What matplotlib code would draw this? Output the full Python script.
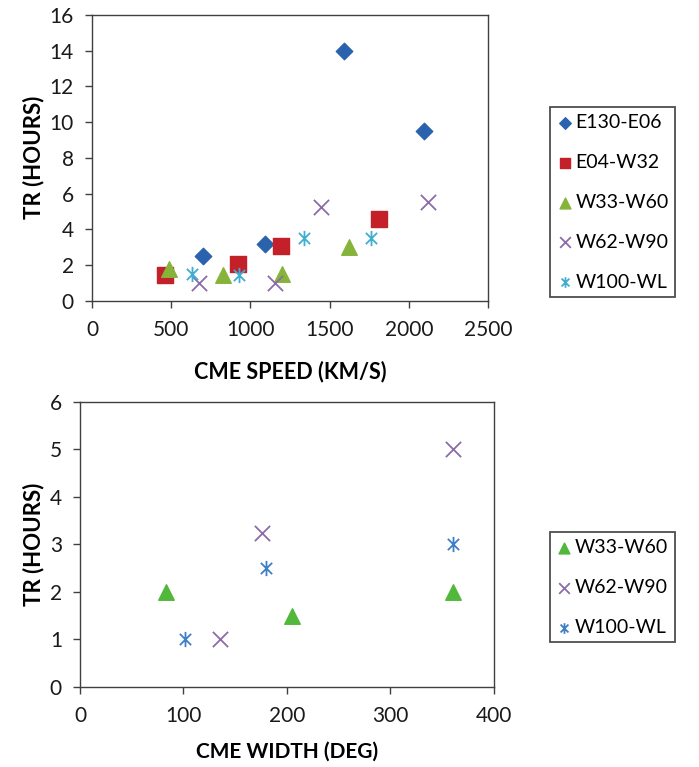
import matplotlib
matplotlib.use("Agg")
import matplotlib.pyplot as plt
from matplotlib.path import Path

# top panel: TR vs CME speed
e130_speed = [700, 1090, 1590, 2095]
e130_tr = [2.5, 3.2, 14.0, 9.5]
e04_speed = [463, 920, 1193, 1814]
e04_tr = [1.45, 2.05, 3.05, 4.55]
w33_speed = [488, 825, 1200, 1622]
w33_tr = [1.75, 1.45, 1.5, 3.0]
w62_speed = [673, 1153, 1446, 2119]
w62_tr = [1.0, 1.0, 5.25, 5.5]
w100_speed = [629, 930, 1336, 1761]
w100_tr = [1.5, 1.45, 3.5, 3.5]

# bottom panel: TR vs CME width
w33_width = [83, 205, 360]
w33_tr_w = [2.0, 1.5, 2.0]
w62_width = [135, 176, 360]
w62_tr_w = [1.0, 3.25, 5.0]
w100_width = [101, 180, 360]
w100_tr_w = [1.0, 2.5, 3.0]

plt.rcParams['font.family'] = ['Lato', 'DejaVu Sans']

# excel style asterisk
ast = Path([(-1, -1), (1, 1), (-1, 1), (1, -1), (0, -1.35), (0, 1.35)],
           [Path.MOVETO, Path.LINETO, Path.MOVETO, Path.LINETO, Path.MOVETO, Path.LINETO])

fig = plt.figure(figsize=(6.99, 7.67), dpi=100)


def style_axes(ax):
    for s in ax.spines.values():
        s.set_color('#404040')
        s.set_linewidth(1.0)
    ax.tick_params(axis='both', direction='out', length=5, width=1, color='#404040',
                   labelsize=15, labelcolor='#1a1a1a')
    ax.tick_params(axis='x', pad=9)
    ax.tick_params(axis='y', pad=8)
    ax.tick_params(axis='both', which='both', top=False, right=False)


def style_legend(leg):
    leg.get_frame().set_linewidth(1.3)


ax1 = fig.add_axes([0.1316, 0.608, 0.5665, 0.3725])
ax1.scatter(e130_speed, e130_tr, marker='D', s=70, color='#2B62AE', label='E130-E06', zorder=3)
ax1.scatter(e04_speed, e04_tr, marker='s', s=125, color='#C3202A', label='E04-W32', zorder=3)
ax1.scatter(w33_speed, w33_tr, marker='^', s=125, color='#86B43A', label='W33-W60', zorder=3)
ax1.scatter(w62_speed, w62_tr, marker='x', s=120, color='#8C6BA8', linewidths=1.3, label='W62-W90', zorder=3)
ax1.scatter(w100_speed, w100_tr, marker=ast, s=120, color='#3FAED0', linewidths=1.3, label='W100-WL', zorder=3)
ax1.set_xlim(0, 2500)
ax1.set_ylim(0, 16)
ax1.set_xticks(range(0, 2501, 500))
ax1.set_yticks(range(0, 17, 2))
ax1.set_xlabel('CME SPEED (KM/S)', fontsize=15.5, fontweight='bold', labelpad=15)
ax1.set_ylabel('TR (HOURS)', fontsize=16, fontweight='bold', labelpad=4)
style_axes(ax1)
leg1 = ax1.legend(loc='upper left', bbox_to_anchor=(1.157, 0.678), frameon=True, fancybox=False,
                  edgecolor='#222222', fontsize=14, labelspacing=1.18, handletextpad=0.15,
                  handlelength=0.8, borderpad=0.35, borderaxespad=0, markerscale=0.7)
style_legend(leg1)

ax2 = fig.add_axes([0.1144, 0.1043, 0.5923, 0.3716])
ax2.scatter(w33_width, w33_tr_w, marker='^', s=125, color='#52B83C', label='W33-W60', zorder=3)
ax2.scatter(w62_width, w62_tr_w, marker='x', s=120, color='#8C6BA8', linewidths=1.3, label='W62-W90', zorder=3)
ax2.scatter(w100_width, w100_tr_w, marker=ast, s=120, color='#3E7FC6', linewidths=1.3, label='W100-WL', zorder=3)
ax2.set_xlim(0, 400)
ax2.set_ylim(0, 6)
ax2.set_xticks(range(0, 401, 100))
ax2.set_yticks(range(0, 7))
ax2.set_xlabel('CME WIDTH (DEG)', fontsize=15, fontweight='bold', labelpad=11)
ax2.set_ylabel('TR (HOURS)', fontsize=16, fontweight='bold', labelpad=4)
style_axes(ax2)
leg2 = ax2.legend(loc='upper left', bbox_to_anchor=(1.135, 0.544), frameon=True, fancybox=False,
                  edgecolor='#222222', fontsize=14, labelspacing=1.18, handletextpad=0.15,
                  handlelength=0.8, borderpad=0.35, borderaxespad=0, markerscale=0.7)
style_legend(leg2)

fig.savefig('out.png', dpi=100, facecolor='white')
plt.close(fig)
